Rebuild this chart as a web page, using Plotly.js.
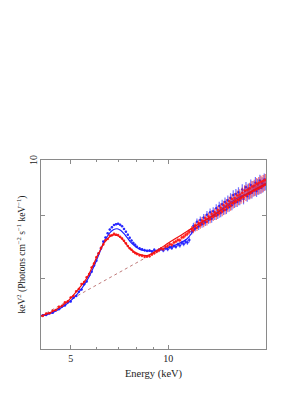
<!DOCTYPE html>
<html>
<head>
<meta charset="utf-8">
<script src="https://cdn.plot.ly/plotly-3.0.1.min.js"></script>
<style>html,body{margin:0;padding:0;background:#fff;}#chart{width:306px;height:396px;}</style>
</head>
<body>
<div id="chart"></div>
<script>
// Energy bins (keV)
var energy = [4.10,4.20,4.30,4.40,4.50,4.60,4.70,4.80,4.90,5.00,
  5.10,5.20,5.30,5.40,5.50,5.60,5.70,5.80,5.90,6.00,
  6.10,6.20,6.30,6.40,6.50,6.60,6.70,6.80,6.90,7.00,
  7.10,7.20,7.30,7.40,7.50,7.60,7.70,7.80,7.90,8.00,
  8.15,8.30,8.45,8.60,8.75,8.90,9.05,9.20,
  9.35,9.50,9.65,9.80,9.95,10.1,10.25,10.4,10.55,10.7,10.85,11.0,11.15,11.3,11.45,11.6,
  11.8,11.95,12.1,12.25,12.4,12.55,12.7,12.85,13.0,13.15,
  13.3,13.45,13.6,13.75,13.9,14.05,14.2,14.35,14.5,14.65,
  14.8,14.95,15.1,15.25,15.4,15.55,15.7,15.85,16.0,16.15,
  16.3,16.45,16.6,16.75,16.9,17.05,17.2,17.35,17.5,17.65,
  17.8,17.95,18.1,18.25,18.4,18.55,18.7,18.85,19.0,19.15,
  19.3,19.45,19.6,19.75,19.9];

// Blue data set
var blueData = [7.46,7.465,7.49,7.495,7.53,7.545,7.585,7.60,7.645,7.655,
  7.71,7.735,7.80,7.83,7.91,7.95,8.045,8.10,8.195,8.27,
  8.385,8.46,8.575,8.64,8.71,8.77,8.81,8.845,8.86,8.865,
  8.85,8.825,8.78,8.735,8.685,8.635,8.59,8.55,8.52,8.49,
  8.465,8.45,8.435,8.425,8.43,8.415,8.44,8.42,
  8.44,8.455,8.43,8.465,8.45,8.48,8.47,8.50,8.49,8.525,8.51,8.55,8.535,8.57,8.56,8.60,
  8.74,8.83,8.79,8.90,8.82,8.93,8.86,8.97,8.89,9.02,
  8.93,9.06,8.95,9.08,9.00,9.13,9.02,9.17,9.05,9.20,
  9.09,9.24,9.11,9.27,9.15,9.31,9.18,9.36,9.22,9.38,
  9.24,9.41,9.27,9.33,9.46,9.29,9.43,9.50,9.34,9.47,
  9.38,9.54,9.40,9.51,9.44,9.58,9.43,9.55,9.47,9.62,
  9.49,9.57,9.52,9.64,9.55];
var blueErr = [.012,.012,.012,.012,.012,.012,.013,.013,.013,.013,
  .013,.014,.014,.014,.014,.015,.015,.015,.015,.016,
  .016,.016,.017,.017,.017,.018,.018,.018,.018,.018,
  .018,.018,.018,.018,.019,.019,.019,.02,.02,.02,
  .021,.021,.022,.022,.023,.024,.025,.025,
  .026,.027,.028,.029,.03,.03,.031,.032,.033,.034,.035,.036,.037,.038,.04,.042,
  .05,.052,.054,.055,.057,.058,.06,.061,.062,.064,
  .065,.066,.068,.069,.07,.071,.072,.074,.075,.076,
  .077,.078,.08,.081,.082,.083,.084,.085,.086,.087,
  .088,.089,.09,.091,.092,.093,.094,.095,.096,.097,
  .098,.099,.1,.1,.101,.102,.103,.104,.105,.106,
  .107,.108,.109,.11,.11];

// Red data set
var redData = [7.45,7.485,7.49,7.525,7.535,7.58,7.595,7.645,7.66,7.715,
  7.735,7.805,7.84,7.915,7.945,8.015,8.065,8.165,8.225,8.325,
  8.385,8.475,8.525,8.595,8.615,8.67,8.675,8.70,8.685,8.68,
  8.65,8.625,8.585,8.545,8.50,8.465,8.44,8.41,8.39,8.375,
  8.355,8.345,8.33,8.335,8.34,8.365,8.385,8.41,
  8.43,8.46,8.455,8.49,8.50,8.53,8.52,8.56,8.575,8.60,8.595,8.64,8.65,8.68,8.70,8.73,
  8.78,8.76,8.84,8.80,8.88,8.84,8.92,8.87,8.96,8.90,
  8.99,8.94,9.03,8.98,9.06,9.00,9.10,9.04,9.14,9.07,
  9.18,9.10,9.21,9.14,9.25,9.17,9.29,9.21,9.31,9.24,
  9.35,9.27,9.37,9.30,9.40,9.32,9.44,9.35,9.45,9.38,
  9.48,9.40,9.51,9.43,9.53,9.45,9.56,9.47,9.58,9.49,
  9.60,9.51,9.61,9.54,9.63];
var redErr = [.011,.011,.012,.012,.012,.012,.012,.013,.013,.013,
  .013,.013,.014,.014,.014,.014,.015,.015,.015,.015,
  .016,.016,.016,.017,.017,.017,.017,.018,.018,.018,
  .018,.018,.018,.018,.018,.019,.019,.019,.02,.02,
  .02,.021,.022,.022,.023,.023,.024,.025,
  .026,.027,.027,.028,.029,.03,.031,.032,.033,.034,.035,.036,.037,.038,.039,.041,
  .05,.051,.053,.055,.056,.058,.059,.061,.062,.063,
  .065,.066,.067,.069,.07,.071,.073,.074,.075,.076,
  .078,.079,.08,.081,.082,.083,.085,.086,.087,.088,
  .089,.09,.091,.092,.093,.094,.095,.096,.097,.098,
  .099,.1,.1,.101,.102,.103,.104,.105,.106,.107,
  .108,.108,.109,.11,.11];

// Model curves
var blueModelE = [4.05,4.43,4.87,5.23,5.62,5.89,6.03,6.18,6.32,6.47,6.63,6.79,6.95,7.12,7.29,7.46,7.64,7.83,8.01,8.20,8.61,9.02,9.46,9.92,10.65,11.43,12.0,12.57,14.16,15.93,17.93,20.0];
var blueModel  = [7.45,7.505,7.625,7.76,7.97,8.175,8.30,8.435,8.56,8.65,8.727,8.771,8.783,8.76,8.706,8.64,8.569,8.515,8.472,8.444,8.422,8.422,8.44,8.47,8.53,8.62,8.76,8.86,9.06,9.27,9.42,9.57];
var redModelE = [4.05,4.43,4.87,5.35,5.62,5.75,5.89,6.03,6.18,6.32,6.47,6.63,6.79,6.95,7.12,7.29,7.46,7.64,7.83,8.20,8.61,9.02,9.46,10.0,10.65,11.43,12.3,14.16,16.0,18.0,20.0];
var redModel  = [7.45,7.52,7.65,7.87,8.01,8.11,8.22,8.34,8.444,8.54,8.61,8.66,8.682,8.672,8.64,8.585,8.515,8.455,8.41,8.365,8.35,8.40,8.465,8.55,8.64,8.74,8.85,9.05,9.25,9.42,9.56];
// Continuum component (dotted)
var contE = [4.05,8.61];
var contVal = [7.45,8.33];

var xTickVals = [5,10];
var xTickText = ['5','10'];
var xMinorVals = [6,7,8,9];
var yTickVals = [8,9,10];
var yTopLabel = '10';

var traces = [
  {x:contE, y:contVal, type:'scatter', mode:'lines', line:{color:'#c07a7a', width:1, dash:'dot'}, hoverinfo:'skip'},
  {x:energy, y:blueData, type:'scatter', mode:'markers',
   marker:{color:'rgba(30,30,255,0.85)', size:2.5},
   error_y:{type:'data', array:blueErr, color:'rgba(40,40,255,0.65)', thickness:1.2, width:0},
   error_x:{type:'percent', value:0.8, color:'rgba(40,40,255,0.6)', thickness:1, width:0}},
  {x:blueModelE, y:blueModel, type:'scatter', mode:'lines', line:{color:'#1e1eff', width:1.2, shape:'spline'}},
  {x:energy, y:redData, type:'scatter', mode:'markers',
   marker:{color:'rgba(255,20,20,0.85)', size:2.5},
   error_y:{type:'data', array:redErr, color:'rgba(255,30,30,0.65)', thickness:1.2, width:0},
   error_x:{type:'percent', value:0.8, color:'rgba(255,30,30,0.6)', thickness:1, width:0}},
  {x:redModelE, y:redModel, type:'scatter', mode:'lines', line:{color:'#ee1111', width:1.2, shape:'spline'}}
];

var axisCommon = {showline:true, linecolor:'#8a8a8a', linewidth:1, mirror:'ticks', ticks:'inside', tickcolor:'#8a8a8a', tickwidth:1, showgrid:false, zeroline:false};

var layout = {
  width:306, height:396,
  margin:{l:41, r:40, t:160, b:47},
  paper_bgcolor:'#ffffff', plot_bgcolor:'#ffffff',
  showlegend:false,
  font:{family:'"Liberation Serif", "Times New Roman", serif', size:10, color:'#222'},
  xaxis:Object.assign({}, axisCommon, {
    type:'log', range:[Math.log10(4.05), Math.log10(20)],
    tickmode:'array', tickvals:xTickVals, ticktext:xTickText, ticklen:4,
    minor:{tickmode:'array', tickvals:xMinorVals, ticklen:2, ticks:'inside', tickcolor:'#8a8a8a', showgrid:false},
    tickfont:{size:10},
    title:{text:'Energy (keV)', font:{size:10.5}, standoff:6}
  }),
  yaxis:Object.assign({}, axisCommon, {
    type:'log', range:[Math.log10(7), 1],
    tickmode:'array', tickvals:yTickVals, ticklen:4, showticklabels:false,
    title:{text:'keV<sup>2</sup> (Photons cm<sup>\u22122</sup> s<sup>\u22121</sup> keV<sup>\u22121</sup>)', font:{size:9.5}, standoff:12}
  }),
  annotations:[
    {text:yTopLabel, xref:'paper', yref:'paper', x:-0.036, y:1, xanchor:'center', yanchor:'middle', textangle:-90, showarrow:false, font:{size:10}}
  ]
};

Plotly.newPlot('chart', traces, layout, {staticPlot:true, displayModeBar:false});
</script>
</body>
</html>
